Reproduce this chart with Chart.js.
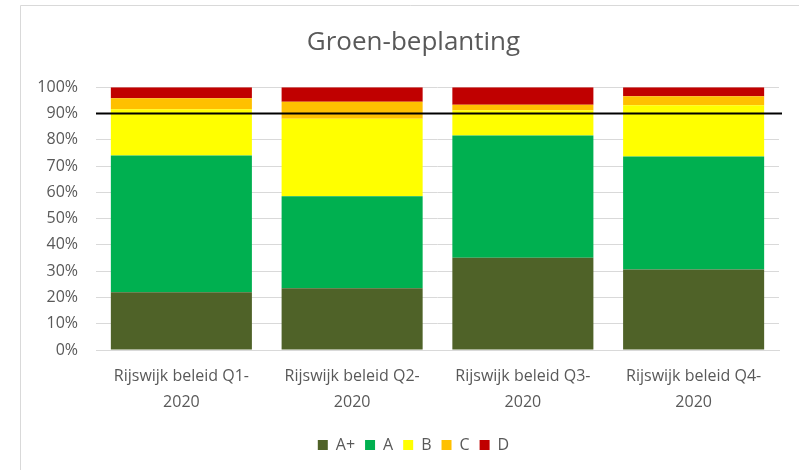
<!DOCTYPE html>
<html>
<head>
<meta charset="utf-8">
<script src="https://cdn.jsdelivr.net/npm/chart.js@4"></script>
<style>
  html, body { margin: 0; padding: 0; background: #ffffff; }
  #wrap { position: relative; width: 799px; height: 470px; }
</style>
</head>
<body>
<div id="wrap"><canvas id="c"></canvas></div>
<script>
// ---- data ----
const categories = [
  ['Rijswijk beleid Q1-', '2020'],
  ['Rijswijk beleid Q2-', '2020'],
  ['Rijswijk beleid Q3-', '2020'],
  ['Rijswijk beleid Q4-', '2020']
];
const seriesNames = ['A+', 'A', 'B', 'C', 'D'];
const valuesAPlus = [22.0, 23.5, 35.1, 30.6];
const valuesA     = [52.0, 35.0, 46.5, 43.0];
const valuesB     = [17.6, 29.5,  9.6, 19.5];
const valuesC     = [ 4.2,  6.5,  2.1,  3.5];
const valuesD     = [ 4.2,  5.5,  6.7,  3.4];
const targetValue = 90;
const yMax = 100;
const yStep = 10;

const colors = ['#4F6228', '#00B050', '#FFFF00', '#FFC000', '#C00000'];
const allValues = [valuesAPlus, valuesA, valuesB, valuesC, valuesD];

const FONT = "'Open Sans', 'Noto Sans', sans-serif";
const TXT = '#595959';

const frame = {
  id: 'frame',
  beforeDraw(chart) {
    const ctx = chart.ctx;
    ctx.save();
    ctx.strokeStyle = '#d9d9d9';
    ctx.lineWidth = 1;
    ctx.beginPath();
    ctx.moveTo(20.5, chart.height + 2);
    ctx.lineTo(20.5, 5.5);
    ctx.lineTo(chart.width + 2, 5.5);
    ctx.stroke();
    ctx.restore();
  }
};

const targetLine = {
  id: 'targetLine',
  afterDatasetsDraw(chart) {
    const y = chart.scales.y.getPixelForValue(targetValue);
    const a = chart.chartArea;
    const ctx = chart.ctx;
    ctx.save();
    ctx.strokeStyle = '#000000';
    ctx.lineWidth = 2;
    ctx.beginPath();
    ctx.moveTo(a.left, y);
    ctx.lineTo(a.right + 3, y);
    ctx.stroke();
    ctx.restore();
  }
};

new Chart(document.getElementById('c'), {
  type: 'bar',
  data: {
    labels: categories,
    datasets: seriesNames.map((n, i) => ({
      label: n,
      data: allValues[i],
      backgroundColor: colors[i],
      borderWidth: 0,
      barPercentage: 0.826,
      categoryPercentage: 1.0
    }))
  },
  options: {
    responsive: true,
    maintainAspectRatio: false,
    animation: false,
    devicePixelRatio: 1,
    layout: { padding: { left: 34, right: 6, top: 5, bottom: 7 } },
    plugins: {
      title: {
        display: true,
        text: 'Groen-beplanting',
        color: TXT,
        font: { family: FONT, size: 26, weight: 'normal' },
        padding: { top: 22, bottom: 29 }
      },
      legend: {
        position: 'bottom',
        labels: {
          color: TXT,
          font: { family: FONT, size: 16 },
          boxWidth: 10,
          boxHeight: 10,
          padding: 10
        }
      },
      tooltip: { enabled: false }
    },
    scales: {
      x: {
        stacked: true,
        grid: { display: false, drawTicks: false },
        border: { display: true, color: '#d9d9d9', width: 1 },
        ticks: {
          color: TXT,
          font: { family: FONT, size: 16, lineHeight: 1.6 },
          padding: 14,
          maxRotation: 0,
          autoSkip: false
        },
        afterFit(scale) { scale.height = 77; }
      },
      y: {
        stacked: true,
        min: 0,
        max: yMax,
        grid: { color: '#d9d9d9', drawTicks: false },
        border: { display: false },
        ticks: {
          stepSize: yStep,
          color: TXT,
          font: { family: FONT, size: 16 },
          padding: 18,
          callback: v => v + '%'
        },
        afterFit(scale) { scale.width = 62; }
      },
      spacer: {
        type: 'linear',
        position: 'right',
        display: true,
        grid: { display: false, drawTicks: false },
        border: { display: false },
        ticks: { display: false },
        afterFit(scale) { scale.width = 14; }
      }
    }
  },
  plugins: [frame, targetLine]
});
</script>
</body>
</html>
